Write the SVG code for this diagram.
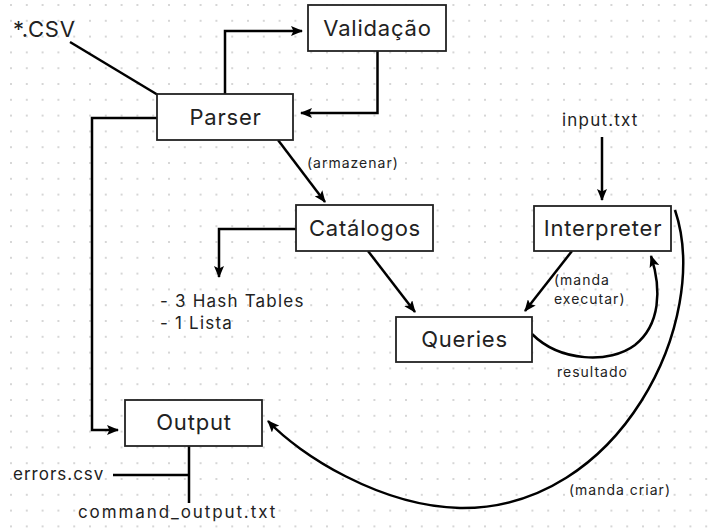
<svg xmlns="http://www.w3.org/2000/svg" width="712" height="532" viewBox="0 0 712 532">
<defs>
<pattern id="grid" patternUnits="userSpaceOnUse" x="3.1" y="-2.9" width="15.8" height="15.8">
<circle cx="7.9" cy="7.9" r="1" fill="#c8c8c8"/>
</pattern>
<marker id="ah" viewBox="0 0 12 10" refX="11" refY="5" markerWidth="12" markerHeight="10" markerUnits="userSpaceOnUse" orient="auto">
<path d="M0,0 L12,5 L0,10 L2.5,5 z" fill="#000"/>
</marker>
<style>
.box{fill:#fff;stroke:#222;stroke-width:1.8}
.nt{font-family:Inter,"Noto Sans",sans-serif;font-size:22px;letter-spacing:0.8px;fill:#222;text-anchor:middle}
.lb{font-family:Inter,"Noto Sans",sans-serif;font-size:17px;letter-spacing:1.2px;fill:#222}
.sm{font-family:Inter,"Noto Sans",sans-serif;font-size:14px;letter-spacing:1px;fill:#222}
.ln{fill:none;stroke:#000;stroke-width:2.5}
.arr{fill:none;stroke:#000;stroke-width:2.5;marker-end:url(#ah)}
</style>
</defs>
<rect width="712" height="532" fill="#fff"/>
<rect width="712" height="532" fill="url(#grid)"/>

<g id="connectors">
<path class="ln" d="M70,42 L158,95"/>
<path class="arr" d="M225,94 V31 H302"/>
<path class="arr" d="M377.5,51 V113 H301"/>
<path class="arr" d="M157,118 H92 V430 H118"/>
<path class="arr" d="M278,140 L325,202"/>
<path class="arr" d="M296,229 H219 V277"/>
<path class="arr" d="M368,251 L415,312"/>
<path class="arr" d="M602,137 V200"/>
<path class="arr" d="M572,251 L525,311"/>
<path class="arr" d="M532,334 C560,362 610,364 635,345 C660,325 662,290 651,256"/>
<path class="arr" d="M675,210 C712,320 620,510 460,508 C380,506 300,455 268,421"/>
<path class="ln" d="M189,446 V503 M113,475 H189"/>
</g>

<g id="csv"><text class="nt" x="13" y="37" style="text-anchor:start">*.CSV</text></g>
<g id="validacao"><rect class="box" x="308" y="5" width="138" height="46"/><text class="nt" x="377.5" y="36">Validação</text></g>
<g id="parser"><rect class="box" x="157" y="94" width="136" height="46"/><text class="nt" x="225.5" y="125">Parser</text></g>
<g id="catalogos"><rect class="box" x="296" y="205" width="137" height="46"/><text class="nt" x="365" y="236">Catálogos</text></g>
<g id="interpreter"><rect class="box" x="534" y="206" width="137" height="45"/><text class="nt" x="603" y="236">Interpreter</text></g>
<g id="queries"><rect class="box" x="396" y="317" width="136" height="45"/><text class="nt" x="464.5" y="347">Queries</text></g>
<g id="output"><rect class="box" x="125" y="400" width="137" height="46"/><text class="nt" x="194" y="430">Output</text></g>
<g id="list"><text class="lb" x="160" y="307">- 3 Hash Tables</text><text class="lb" x="160" y="329">- 1 Lista</text></g>
<g id="input"><text class="lb" x="562" y="126">input.txt</text></g>
<g id="errors"><text class="lb" x="13" y="480" style="letter-spacing:1px">errors.csv</text></g>
<g id="cmdout"><text class="lb" x="78" y="518" style="letter-spacing:1.9px">command_output.txt</text></g>
<g id="labels">
<text class="sm" x="307" y="168">(armazenar)</text>
<text class="sm" x="554" y="285">(manda</text>
<text class="sm" x="554" y="304">executar)</text>
<text class="sm" x="557" y="377">resultado</text>
<text class="sm" x="569" y="495">(manda criar)</text>
</g>
</svg>
